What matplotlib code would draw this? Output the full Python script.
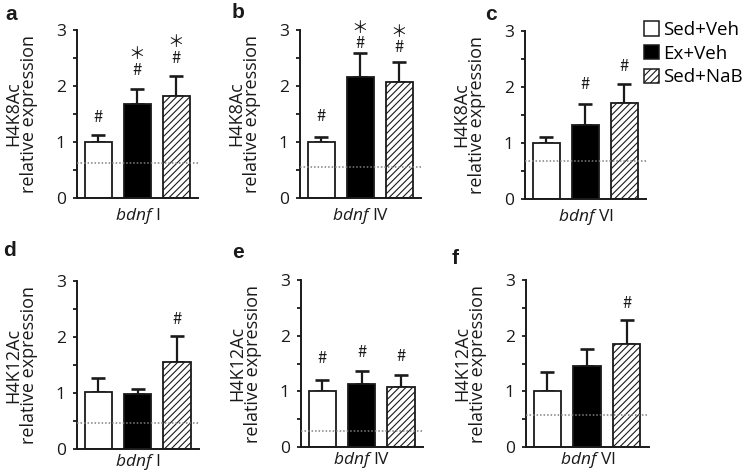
import matplotlib
matplotlib.use("Agg")
import matplotlib.pyplot as plt
from matplotlib.patches import Patch

plt.rcParams['font.family'] = ['Open Sans', 'DejaVu Sans']
plt.rcParams['mathtext.fontset'] = 'custom'
plt.rcParams['mathtext.it'] = 'Open Sans:italic'
plt.rcParams['mathtext.rm'] = 'Open Sans'
plt.rcParams['hatch.linewidth'] = 0.8

# ---------------- data ----------------
groups = ['Sed+Veh', 'Ex+Veh', 'Sed+NaB']
panel_letters = ['a', 'b', 'c', 'd', 'e', 'f']
marks = ['H4K8Ac', 'H4K8Ac', 'H4K8Ac', 'H4K12Ac', 'H4K12Ac', 'H4K12Ac']
promoters = ['I', 'IV', 'VI', 'I', 'IV', 'VI']

mean_a = [1.00, 1.67, 1.83]
err_a = [0.13, 0.27, 0.35]
mean_b = [1.00, 2.16, 2.07]
err_b = [0.09, 0.43, 0.36]
mean_c = [1.00, 1.33, 1.71]
err_c = [0.10, 0.36, 0.35]
mean_d = [1.01, 0.99, 1.56]
err_d = [0.25, 0.09, 0.46]
mean_e = [1.00, 1.14, 1.07]
err_e = [0.21, 0.22, 0.23]
mean_f = [1.00, 1.46, 1.85]
err_f = [0.35, 0.30, 0.43]

baseline = [0.62, 0.56, 0.67, 0.46, 0.29, 0.57]

# significance marks: (bar index, symbols from top to bottom, y of the lowest symbol)
sig_a = [(0, '#', 1.41), (1, '＊\n#', 2.25), (2, '＊\n#', 2.46)]
sig_b = [(0, '#', 1.42), (1, '＊\n#', 2.72), (2, '＊\n#', 2.65)]
sig_c = [(1, '#', 2.01), (2, '#', 2.33)]
sig_d = [(2, '#', 2.28)]
sig_e = [(0, '#', 1.56), (1, '#', 1.66), (2, '#', 1.60)]
sig_f = [(2, '#', 2.54)]

means = [mean_a, mean_b, mean_c, mean_d, mean_e, mean_f]
errs = [err_a, err_b, err_c, err_d, err_e, err_f]
sigs = [sig_a, sig_b, sig_c, sig_d, sig_e, sig_f]

# ---------------- layout ----------------
W, H = 743, 473
fig = plt.figure(figsize=(W / 100, H / 100), dpi=100)

# axes boxes in pixels: left, top, width, height
boxes = [(77, 30, 121, 168), (300, 30, 121, 168), (525, 31, 121, 168),
         (77, 281, 122, 168), (301, 280, 122, 167), (526, 280, 123, 167)]
letter_pos = [(11, 14), (238, 12), (491, 14), (10, 250), (238, 253), (455, 258)]

faces = ['white', 'black', 'white']
hatches = [None, None, '/////']
xpos = [0, 1, 2]
ink = '#1a1a1a'

for i in range(6):
    l, t, w, h = boxes[i]
    ax = fig.add_axes([l / W, 1 - (t + h) / H, w / W, h / H])
    for j in range(3):
        ax.bar(xpos[j], means[i][j], width=0.69, color=faces[j], edgecolor=ink,
               linewidth=1.3, hatch=hatches[j], zorder=2)
        ax.errorbar(xpos[j], means[i][j], yerr=[[0], [errs[i][j]]], fmt='none',
                    ecolor=ink, elinewidth=1.6, capsize=5.2, capthick=1.9, zorder=1)
    ax.axhline(baseline[i], color='#808080', linestyle=(0, (1, 1.3)), linewidth=1.1, zorder=3)
    for (k, s, y) in sigs[i]:
        ax.text(xpos[k], y - 0.12, s, ha='center', va='bottom', fontsize=12, color=ink,
                family=['Noto Sans CJK JP'], linespacing=0.9, multialignment='center')
    ax.set_xlim(-0.54, 2.56)
    ax.set_ylim(0, 3)
    ax.set_yticks([0, 1, 2, 3])
    ax.set_yticks([0.5, 1.5, 2.5], minor=True)
    ax.set_xticks([])
    for side in ['top', 'right']:
        ax.spines[side].set_visible(False)
    for side in ['left', 'bottom']:
        ax.spines[side].set_linewidth(1.4)
        ax.spines[side].set_color(ink)
    ax.tick_params(axis='y', which='both', direction='out', length=3, width=1.3,
                   colors=ink, labelsize=12.5, pad=5)
    ax.set_ylabel(marks[i] + '\nrelative expression', fontsize=13, color=ink,
                  labelpad=13, linespacing=0.85)
    ax.set_xlabel(r'$\mathit{bdnf}$ ' + promoters[i], fontsize=12.5, color=ink,
                  labelpad=6 if i < 3 else 2.5)
    lx, ly = letter_pos[i]
    fig.text(lx / W, 1 - ly / H, panel_letters[i], fontsize=15, fontweight='bold',
             ha='center', va='center', color=ink, family=['Liberation Sans'])

handles = [Patch(facecolor=faces[j], edgecolor=ink, hatch=hatches[j], linewidth=1.1)
           for j in range(3)]
fig.legend(handles, groups, loc='upper left', bbox_to_anchor=(644 / W, 1 - 21 / H),
           frameon=False, fontsize=13.5, handlelength=0.8, handleheight=0.8,
           handletextpad=0.2, labelspacing=0.3, borderpad=0, borderaxespad=0)

fig.savefig('out.png', dpi=100, facecolor='white')
